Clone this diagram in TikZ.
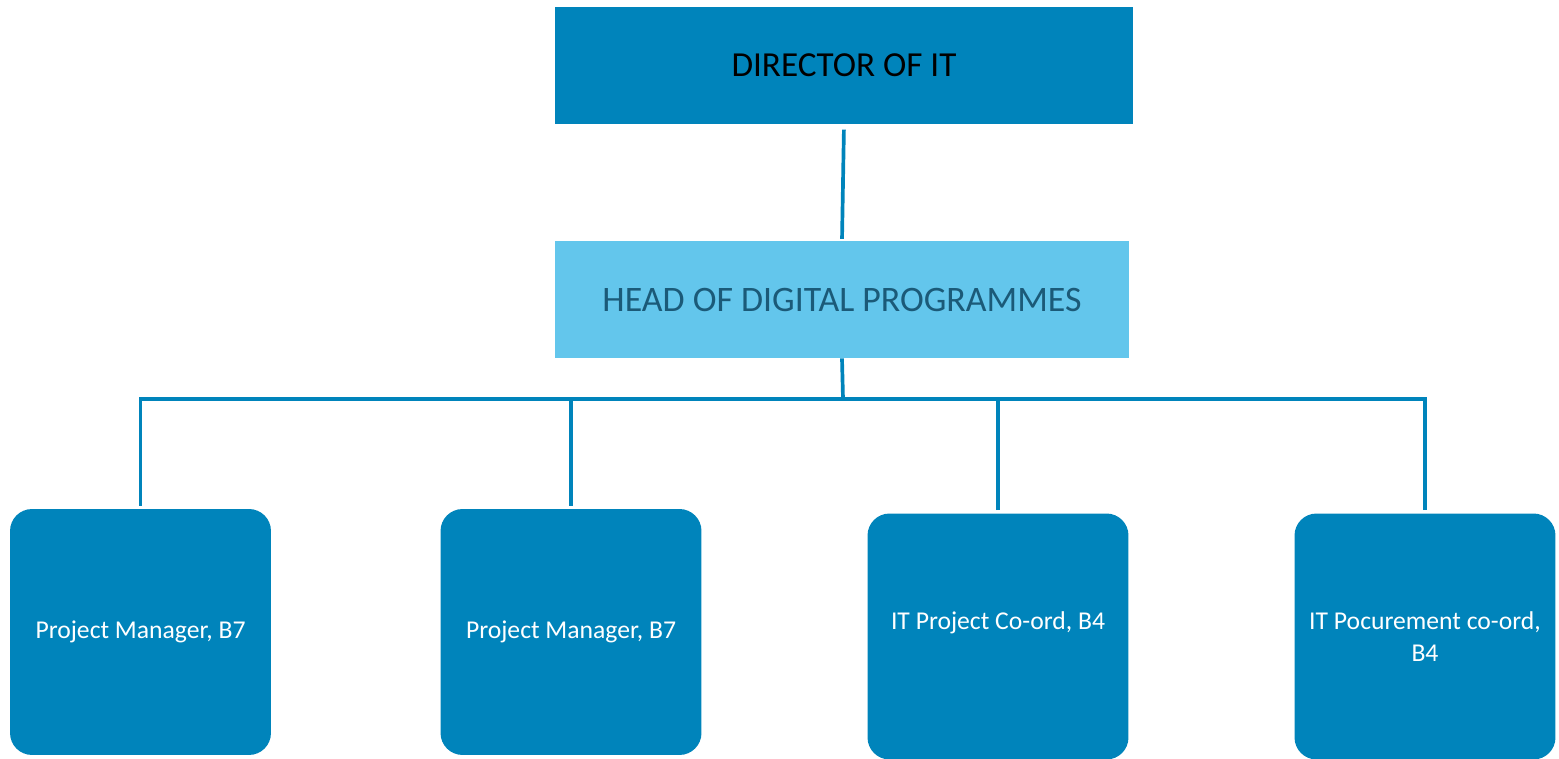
\documentclass[tikz,border=0pt]{standalone}
\usepackage{fontspec}
\setmainfont{Carlito}
\usepackage{tikz}

\definecolor{deepblue}{HTML}{0084BB}
\definecolor{paleblue}{HTML}{63C6EC}
\definecolor{headtext}{HTML}{1B5A78}

\tikzset{
  topbox/.style={rectangle, fill=deepblue, minimum width=11.56cm, minimum height=2.34cm,
    font=\fontsize{20}{24}\selectfont, text=black},
  headbox/.style={rectangle, fill=paleblue, minimum width=11.48cm, minimum height=2.34cm,
    font=\fontsize{20.4}{24}\selectfont, text=headtext},
  rolebox/.style={rectangle, rounded corners=0.44cm, fill=deepblue, minimum width=5.22cm,
    minimum height=4.92cm, align=center, text=white, font=\fontsize{14.6}{18.5}\selectfont},
  link/.style={draw=deepblue, line width=2.1pt}
}

\begin{document}
\begin{tikzpicture}[x=0.02cm, y=-0.02cm]
  \useasboundingbox (0,0) rectangle (1559,759);

  \node[topbox] (director) at (844,65.5) {DIRECTOR OF IT};
  \node[headbox] (head) at (842,299.5) {HEAD OF DIGITAL PROGRAMMES};

  \node[rolebox] (pmone) at (140.5,632) {Project Manager, B7};
  \node[rolebox] (pmtwo) at (571,632) {Project Manager, B7};
  \node[rolebox] (itproj) at (998,636.5) {IT Project Co-ord, B4\\ \mbox{}};
  \node[rolebox] (itproc) at (1425,636.5) {IT Pocurement co-ord,\\B4};

  \coordinate (bus) at (843,399);

  \draw[link, shorten <=3pt, shorten >=1pt] (director.south) -- (head.north);
  \draw[link] (head.south) -- (bus);
  \draw[link] (pmone.north) ++(0,-3) |- (bus);
  \draw[link] (pmtwo.north) ++(0,-3) |- (bus);
  \draw[link] (itproj.north) ++(0,-3) |- (bus);
  \draw[link] (itproc.north) ++(0,-3) |- (bus);
\end{tikzpicture}
\end{document}
